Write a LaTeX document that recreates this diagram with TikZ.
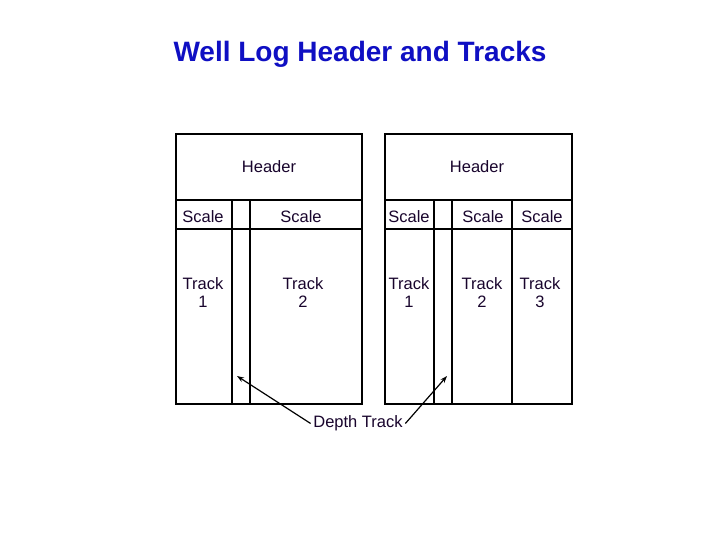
\documentclass[tikz,border=0pt]{standalone}
\usepackage{fontspec}
\setmainfont{Liberation Sans}
\usetikzlibrary{arrows.meta}
\definecolor{titleblue}{RGB}{15,15,195}
\definecolor{inkc}{RGB}{25,5,45}
\tikzset{
  lbl/.style={font=\fontsize{16.5}{18}\selectfont, text=inkc, align=center, inner sep=2pt},
  pointer/.style={-{Stealth[length=7pt,width=5pt]}, line width=1.2pt}
}
\begin{document}
\begin{tikzpicture}[x=1pt, y=-1pt, line width=1.5pt]
			\useasboundingbox[fill=white] (0,0) rectangle (720,540);
			\node[font=\fontsize{28}{32}\selectfont\bfseries, text=titleblue] (title) at (360,54) {Well Log Header and Tracks};
			% left log
			\draw (176,134) rectangle (362,404);
			\draw (176,200) -- (362,200);
			\draw (176,229) -- (362,229);
			\draw (232,200) -- (232,404);
			\draw (250,200) -- (250,404);
			\node[lbl] (hdrL) at (269,166.5) {Header};
			\node[lbl] (scaleLa) at (203,216.5) {Scale};
			\node[lbl] (scaleLb) at (301,216.5) {Scale};
			\node[lbl] (trackLa) at (203,292.5) {Track\\1};
			\node[lbl] (trackLb) at (303,292.5) {Track\\2};
			% right log
			\draw (385,134) rectangle (572,404);
			\draw (385,200) -- (572,200);
			\draw (385,229) -- (572,229);
			\draw (434,200) -- (434,404);
			\draw (452,200) -- (452,404);
			\draw (512,200) -- (512,404);
			\node[lbl] (hdrR) at (477,166.5) {Header};
			\node[lbl] (scaleRa) at (409,216.5) {Scale};
			\node[lbl] (scaleRb) at (483,216.5) {Scale};
			\node[lbl] (scaleRc) at (542,216.5) {Scale};
			\node[lbl] (trackRa) at (409,292.5) {Track\\1};
			\node[lbl] (trackRb) at (482,292.5) {Track\\2};
			\node[lbl] (trackRc) at (540,292.5) {Track\\3};
			% depth track pointers
			\node[lbl] (depth) at (358,423.5) {Depth Track};
			\coordinate (depthL) at (237,376);
			\coordinate (depthR) at (447,376);
			\draw[pointer] (depth.west) -- (depthL);
			\draw[pointer] (depth.east) -- (depthR);
		\end{tikzpicture}
\end{document}
